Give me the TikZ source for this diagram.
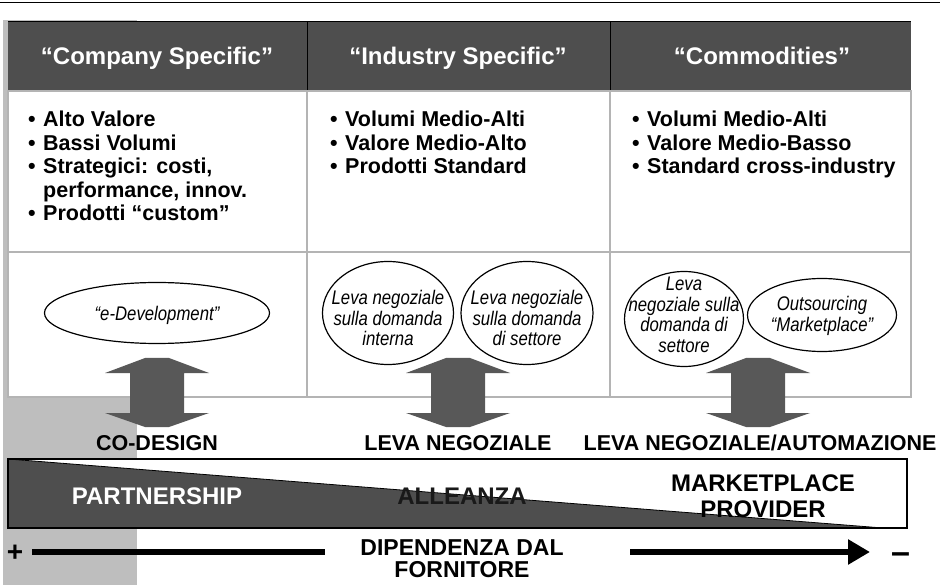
\documentclass[tikz,border=0pt]{standalone}
\usepackage{fontspec}
\setmainfont{Liberation Sans}
\newfontfamily\narrowfont[FakeStretch=0.85]{Liberation Sans}
\usetikzlibrary{shapes.geometric,arrows.meta}

\definecolor{bandgray}{HTML}{4E4E4E}
\definecolor{gridgray}{HTML}{B4B4B4}
\definecolor{arrowgray}{HTML}{585858}
\definecolor{screen}{HTML}{BEBEBE}

\newcommand\bitem[1]{\makebox[15pt][l]{•}#1}

\tikzset{
  head/.style={text=white, anchor=base, inner sep=0pt,
    font=\fontsize{24}{28}\selectfont\bfseries},
  blist/.style={anchor=north west, align=left, inner sep=0pt,
    font=\fontsize{21.5}{23.5}\selectfont\bfseries},
  bubble/.style={ellipse, draw=black, line width=1.2pt, fill=white, inner sep=0pt},
  bubtext/.style={align=center, inner sep=0pt,
    font=\narrowfont\itshape\fontsize{19.7}{20.5}\selectfont},
  lever/.style={anchor=base, inner sep=0pt, font=\fontsize{21.5}{24}\selectfont\bfseries},
  wedgetext/.style={inner sep=0pt, align=center, font=\fontsize{24}{26}\selectfont\bfseries},
  pics/pushpull/.style={code={
    \fill[arrowgray] (-52,15) -- (-12,0) -- (12,0) -- (52,15) -- (27,15) -- (27,55)
      -- (52,55) -- (12,69) -- (-12,69) -- (-52,55) -- (-27,55) -- (-27,15) -- cycle;
  }},
}

\begin{document}
\begin{tikzpicture}[x=1pt, y=-1pt]
\useasboundingbox (0,0) rectangle (940,585);

% rule across the top
\draw[line width=1pt] (0,3) -- (940,3);

% screened strip behind the left column
\fill[screen] (3,20) rectangle (137,585);

% table: header band and body grid
\fill[white] (8,91) rectangle (911,397);
\fill[bandgray] (8,22) rectangle (911,91);
\draw[line width=1pt] (8,22) -- (911,22);
\draw[line width=1.3pt] (8,91) -- (911,91);
\draw[line width=0.8pt] (307,22) -- (307,91) (610,22) -- (610,91);
\draw[gridgray, line width=1.2pt] (8,91) rectangle (911,397)
  (307,91) -- (307,397) (610,91) -- (610,397) (8,252) -- (911,252);

% column headings
\node[head] (h1) at (157,65) {“Company Specific”};
\node[head] (h2) at (458,65) {“Industry Specific”};
\node[head] (h3) at (762,65) {“Commodities”};

% characteristics
\node[blist] (b1) at (28,111) {\bitem{Alto Valore}\\ \bitem{Bassi Volumi}\\
  \bitem{Strategici: costi,}\\ \hspace*{15pt}performance, innov.\\ \bitem{Prodotti “custom”}};
\node[blist] (b2) at (330,111) {\bitem{Volumi Medio-Alti}\\ \bitem{Valore Medio-Alto}\\
  \bitem{Prodotti Standard}};
\node[blist] (b3) at (632,111) {\bitem{Volumi Medio-Alti}\\ \bitem{Valore Medio-Basso}\\
  \bitem{Standard cross-industry}};

% levers
\node[bubble, minimum width=225pt, minimum height=61pt] (e1) at (157,313) {};
\node[bubtext] at (157,315) {“e-Development”};
\node[bubble, minimum width=131pt, minimum height=103pt] (e2) at (388,313) {};
\node[bubtext] at (388,318) {Leva negoziale\\sulla domanda\\interna};
\node[bubble, minimum width=132pt, minimum height=103pt] (e3) at (527,313) {};
\node[bubtext] at (527,318) {Leva negoziale\\sulla domanda\\di settore};
\node[bubble, minimum width=119pt, minimum height=95pt] (e4) at (684,319) {};
\node[bubtext] at (684,315) {Leva\\negoziale sulla\\domanda di\\settore};
\node[bubble, minimum width=149pt, minimum height=73pt] (e5) at (822,315) {};
\node[bubtext] at (822,316) {Outsourcing\\“Marketplace”};

% two-way block arrows
\pic at (157,358) {pushpull};
\pic at (458,358) {pushpull};
\pic at (758,358) {pushpull};

\node[lever] (l1) at (157,450) {CO-DESIGN};
\node[lever] (l2) at (458,450) {LEVA NEGOZIALE};
\node[lever] (l3) at (760,450) {LEVA NEGOZIALE/AUTOMAZIONE};

% relationship wedge
\fill[white] (8,459) rectangle (907,528);
\fill[bandgray] (8,459) -- (883,528) -- (8,528) -- cycle;
\draw[line width=0.8pt] (8,459) -- (883,528);
\draw[line width=1.3pt] (8,459) rectangle (907,528);

\node[wedgetext, text=white] (w1) at (157,496) {PARTNERSHIP};
\node[wedgetext, text=black!90] (w2) at (462,496) {ALLEANZA};
\node[wedgetext] (w3) at (763,496) {MARKETPLACE\\PROVIDER};

% dependence axis
\node[inner sep=0pt, font=\fontsize{28}{28}\selectfont\bfseries] (plus) at (15,553) {+};
\node[inner sep=0pt, font=\fontsize{34}{34}\selectfont\bfseries] (minus) at (900.5,558) {–};
\node[wedgetext, font=\fontsize{23}{22}\selectfont\bfseries] (dep) at (462,559)
  {DIPENDENZA DAL\\FORNITORE};
\coordinate (lstart) at (32,552);
\coordinate (lend) at (325,552);
\coordinate (rstart) at (630,552);
\coordinate (rend) at (870,552);
\draw[line width=6.5pt] (lstart) -- (lend);
\draw[line width=6.5pt, -{Triangle[length=22pt, width=24pt]}] (rstart) -- (rend);
\end{tikzpicture}
\end{document}
